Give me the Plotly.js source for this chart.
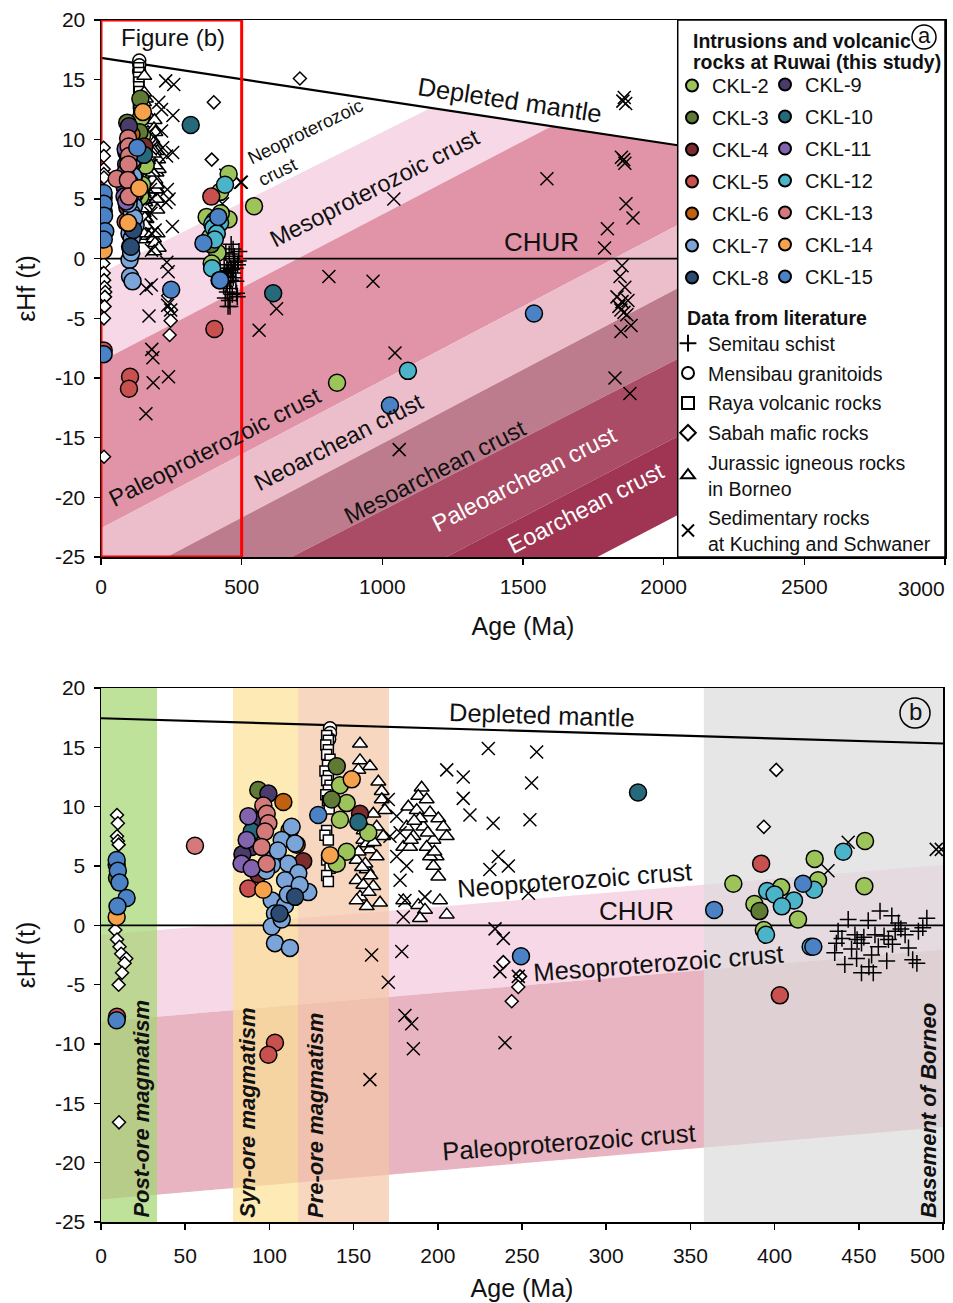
<!DOCTYPE html>
<html><head><meta charset="utf-8">
<script src="https://cdn.plot.ly/plotly-3.0.1.min.js"></script>
<style>html,body{margin:0;padding:0;background:#fff}</style>
</head><body><div id="chart" style="width:953px;height:1303px"></div>
<script>
const FONT = 'Liberation Sans, Arial, Helvetica, sans-serif';

// ---------- tick labels ----------
const yTickVals = [20, 15, 10, 5, 0, -5, -10, -15, -20, -25];
const yTickText = ['20', '15', '10', '5', '0', '-5', '-10', '-15', '-20', '-25'];
const xTickValsA = [0, 500, 1000, 1500, 2000, 2500, 3000];
const xTickTextA = ['0', '500', '1000', '1500', '2000', '2500', '3000'];
const xTickValsB = [0, 50, 100, 150, 200, 250, 300, 350, 400, 450, 500];
const xTickTextB = ['0', '50', '100', '150', '200', '250', '300', '350', '400', '450', '500'];

// ---------- this study: age (Ma) and eHf(t) per sample ----------
const ckl2Age = [141.9, 145.9, 141.9, 158.7, 145.9, 140, 375.5, 423.8, 453.7, 453.3, 425.8, 403.9, 413.9, 393.6, 388, 544, 839];
const ckl2Eps = [11.8, 10.3, 8.9, 7.8, 6.2, 5.2, 3.5, 5.6, 7.1, 3.3, 3.8, 3.2, 0.5, -0.4, 1.8, 4.4, -10.4];
const ckl3Age = [93.4, 140, 137, 9.5, 391];
const ckl3Eps = [11.4, 13.4, 10.6, 4.0, 1.2];
const ckl4Age = [120.1, 93.4, 153.8];
const ckl4Eps = [5.4, 4.3, 9.4];
const ckl5Age = [9.3, 9.5, 87.5, 103.3, 99.4, 392, 403.1];
const ckl5Eps = [5.1, -7.7, 3.1, -9.9, -10.9, 5.2, -5.9];
const ckl6Age = [108.3, 116.2, 112];
const ckl6Eps = [10.4, 6.8, 8.0];
const ckl7Age = [113.2, 107.3, 115.2, 103.3, 111.2, 117.2, 109.3, 123.1, 101.4, 109.3, 103.3, 101.4, 107.3, 103.3, 112.2, 111, 101.5, 118, 105, 98];
const ckl7Eps = [8.3, 7.2, 6.9, 5.8, 5.2, 4.4, 3.8, 2.8, 2.1, 1.7, 1.0, -0.1, 0.5, -1.5, -1.9, 2.6, 5.1, 3.4, 6.3, 4.6];
const ckl8Age = [115.2, 106];
const ckl8Eps = [2.4, 1.0];
const ckl9Age = [99.4, 90.4, 89.5, 84];
const ckl9Eps = [11.1, 8.9, 6.6, 6.0];
const ckl10Age = [89.5, 152.8, 318.9, 612];
const ckl10Eps = [7.9, 8.7, 11.2, -2.9];
const ckl11Age = [87.5, 86.5, 83.5, 89.5];
const ckl11Eps = [9.2, 7.2, 5.2, 4.8];
const ckl12Age = [440.8, 423.4, 395.6, 400, 411.5, 404.3, 394.9, 421.4, 1091];
const ckl12Eps = [6.2, 3.0, 2.9, 2.6, 2.1, 1.6, -0.8, -1.8, -9.4];
const ckl13Age = [55.8, 96.4, 98.4, 99.4, 97.4, 95.4, 98.4];
const ckl13Eps = [6.7, 10.1, 9.4, 8.6, 7.9, 6.6, 5.2];
const ckl14Age = [9.3, 96.4, 148.9, 136];
const ckl14Eps = [0.7, 3.0, 12.3, 5.9];
const ckl15Age = [9.3, 10, 11, 15.2, 9.8, 9.3, 129, 249.4, 364.1, 416.9, 423, 1027, 1539];
const ckl15Eps = [5.5, 4.6, 3.6, 2.3, 1.6, -8.0, 9.3, -2.6, 1.3, 3.5, -1.8, -12.3, -4.6];

const sampleNames = ['CKL-2', 'CKL-3', 'CKL-4', 'CKL-5', 'CKL-6', 'CKL-7', 'CKL-8',
                     'CKL-9', 'CKL-10', 'CKL-11', 'CKL-12', 'CKL-13', 'CKL-14', 'CKL-15'];
const sampleColors = ['#9dc35b', '#5f7a34', '#7b2c2c', '#c8514f', '#c0610f', '#7ba4d8', '#2c4b73',
                      '#4b3b6b', '#25697b', '#8163ae', '#4cb4c9', '#d47a7a', '#f6a24c', '#4b82c5'];
const sampleAges = [ckl2Age, ckl3Age, ckl4Age, ckl5Age, ckl6Age, ckl7Age, ckl8Age,
                    ckl9Age, ckl10Age, ckl11Age, ckl12Age, ckl13Age, ckl14Age, ckl15Age];
const sampleEps = [ckl2Eps, ckl3Eps, ckl4Eps, ckl5Eps, ckl6Eps, ckl7Eps, ckl8Eps,
                   ckl9Eps, ckl10Eps, ckl11Eps, ckl12Eps, ckl13Eps, ckl14Eps, ckl15Eps];

// ---------- literature ----------
const semitauAge = [462.6, 469.6, 490.4, 443.7, 455.6, 473.6, 485.4, 437.7, 447.7, 459.6, 477.5, 467.6, 436.7, 451.6, 479.5, 445.7, 461.6, 457.6, 435.7, 448.7, 466.6, 441.7, 484.5, 451.6, 458.6, 471.6, 482, 475, 465, 453, 440, 488, 470, 456, 449];
const semitauEps = [1.2, 0.8, 0.6, 0.5, 0.4, 0.2, -0.5, -0.5, -0.8, -0.8, -0.8, -1.2, -1.5, -1.5, -1.9, -2.0, -1.8, -2.5, -2.3, -2.8, -3.0, -3.3, -3.2, -4.0, -4.0, -0.5, -2.9, -0.3, -0.9, -1.0, -1.1, -0.2, -1.6, -3.5, -1.2];
const mensibauAge = [136, 136, 135.5];
const mensibauEps = [16.6, 16.2, 15.7];
const rayaAge = [134, 135, 133.5, 135, 134, 136, 134.5, 133, 135, 134, 136, 135, 133.5, 134.5, 135.5, 134, 133, 135, 134, 136, 134, 135];
const rayaEps = [16.0, 15.6, 15.2, 14.8, 14.4, 14.0, 13.5, 13.0, 12.6, 12.2, 11.8, 11.4, 11.0, 10.5, 9.8, 8.0, 7.6, 7.2, 5.5, 4.8, 4.2, 3.7];
const sabahAge = [9.5, 10, 9.5, 10, 10.5, 8.5, 9.5, 11, 12, 15, 14, 12.5, 10.5, 10.7, 238.9, 248.8, 247.8, 243.9, 401, 393.6, 707];
const sabahEps = [9.3, 8.6, 7.5, 7.1, 6.8, -0.4, -1.2, -1.8, -2.4, -2.8, -3.2, -4.0, -5.0, -16.6, -3.1, -4.3, -5.2, -6.4, 13.1, 8.3, 15.1];
const jurassicAge = [153.8, 153.8, 159.7, 152.8, 164.7, 166.7, 166.7, 168.6, 161.7, 163.7, 167.6, 155.8, 159.7, 151.8, 163.7, 157.8, 151.8, 161.7, 153.8, 157.8, 165.7, 151.8, 155.8, 154, 156, 158, 160, 153, 157, 155, 159, 162,
                     190.4, 188.4, 193.4, 182.5, 187.5, 195.4, 200.3, 181.5, 191.4, 203.3, 185.5, 197.4, 205.3, 179.5, 193.4, 199.3, 197.4, 200.3, 179.5, 188.4, 192.4, 201.3, 205.3, 189.4, 183.5, 189.4, 195.4, 186, 194, 198, 184];
const jurassicEps = [15.3, 13.9, 13.4, 13.1, 12.1, 11.3, 10.6, 9.7, 9.4, 8.3, 7.5, 7.2, 6.4, 5.5, 5.8, 4.7, 3.8, 3.3, 2.4, 1.6, 1.9, 2.1, 3.4, 8.8, 8.0, 6.9, 4.2, 6.2, 5.2, 4.9, 2.8, 7.0,
                     11.6, 10.9, 10.6, 10.0, 9.7, 9.5, 9.0, 8.3, 8.3, 8.3, 7.5, 7.2, 7.5, 6.6, 6.6, 5.8, 5.0, 4.1, 2.1, 1.7, 1.3, 2.1, 0.9, 0.6, 6.6, 9.0, 5.8, 8.8, 7.8, 6.2, 7.2];
const sedimentAge = [230, 258.7, 205.3, 215.1, 255.7, 215.1, 219.1, 232.9, 254.7, 170.6, 175.6, 235.9, 230.9, 241.9, 253.8, 177.6, 180.5, 179.5, 192.4, 234, 238.9, 236.9, 247.8, 160.7, 178.6, 170.6, 180.5, 184.5, 185.5, 239.9, 159.7, 496, 499, 431.7, 443.7, 171.6, 177.6, 181.5, 175.6,
                     562, 624, 810, 967, 1041, 1045, 1060, 1585, 1800, 1790, 1860, 1855, 1865, 1850, 1858, 1862, 1866, 1891, 1852, 1845, 1862, 1834, 1852, 1873, 1841, 1859, 1848, 1869, 1884, 1848, 1827, 1880];
const sedimentEps = [14.9, 14.6, 13.1, 12.5, 12.0, 10.7, 9.3, 8.6, 8.9, 10.6, 9.2, 5.8, 4.7, 5.0, 2.7, 3.8, 2.1, 0.7, 2.4, -0.3, -1.1, -3.9, -4.3, -2.5, -2.2, -4.8, -7.6, -8.3, -10.4, -9.9, -13.0, 6.4, 6.4, 4.6, 7.0, 7.5, 7.8, 5.0, 5.8,
                     -6.0, -4.2, -1.5, -1.9, 5.0, -7.9, -16.0, 6.7, 2.5, 0.9, 13.5, 13.2, 13.0, 8.5, 8.3, 8.0, 4.6, 3.4, -0.6, -1.5, -2.4, -3.2, -3.6, -3.5, -4.0, -4.5, -4.3, -4.7, -5.6, -6.1, -10.0, -11.3];

const litNames = ['Semitau schist', 'Mensibau granitoids', 'Raya volcanic rocks', 'Sabah mafic rocks',
                  'Jurassic igneous rocks<br>in Borneo', 'Sedimentary rocks<br>at Kuching and Schwaner'];
const litAges = [semitauAge, mensibauAge, rayaAge, sabahAge, jurassicAge, sedimentAge];
const litEps = [semitauEps, mensibauEps, rayaEps, sabahEps, jurassicEps, sedimentEps];

// ---------- reference lines: [eHf at 0 Ma, slope per Ma] ----------
const dmLineA = [16.82, -0.00357];
const dmLineB = [17.45, -0.00425];
const crustLinesA = [[-1.2, 0.0118], [-8.6, 0.0123], [-22.6, 0.0124], [-27.9, 0.0124], [-33.2, 0.0121], [-40.1, 0.0123], [-46.7, 0.0123]];
const crustColorsA = ['#f7d8e6', '#e193a7', '#ecbdcb', '#bd7c8d', '#aa4c66', '#a03553'];
const crustLinesB = [[-0.8, 0.0118], [-8.1, 0.0121], [-23.1, 0.0122]];
const crustColorsB = ['#f7d8e6', '#e8b4c1'];
const periodNames = ['Post-ore magmatism', 'Syn-ore magmatism', 'Pre-ore magmatism', 'Basement of Borneo'];
const periodStart = [0, 78.4, 117, 358];
const periodEnd = [33.3, 117, 171, 500];
const periodColors = ['rgba(164,214,113,0.7)', 'rgba(252,225,148,0.7)', 'rgba(244,198,165,0.7)', 'rgba(220,220,220,0.7)'];

// ---------- helpers ----------
const PL = 101, PR = 945, PT = 20, PB = 1222;
const px2x = p => (p - PL) / (PR - PL);
const py2y = p => (PB - p) / (PB - PT);
const lineVal = (l, x) => l[0] + l[1] * x;

function bandPath(up, lo, dm, xmax, xr, yr) {
  const top = [], bot = [];
  for (let x = 0; x <= xmax + 1e-9; x += 1) {
    let u = lineVal(up, x);
    if (dm) u = Math.min(u, lineVal(dm, x));
    u = Math.min(u, 20);
    const l = Math.max(lineVal(lo, x), -25);
    if (u > l) { top.push([x, u]); bot.push([x, l]); }
  }
  const pts = top.concat(bot.reverse());
  return {type: 'path', xref: xr, yref: yr, layer: 'below', line: {width: 0},
          path: 'M' + pts.map(p => p[0].toFixed(2) + ',' + p[1].toFixed(3)).join('L') + 'Z'};
}

const shapes = [];
for (let i = 0; i < crustColorsA.length; i++) {
  const s = bandPath(crustLinesA[i], crustLinesA[i + 1], dmLineA, 2050, 'x', 'y');
  s.fillcolor = crustColorsA[i]; shapes.push(s);
}
for (let i = 0; i < crustColorsB.length; i++) {
  const s = bandPath(crustLinesB[i], crustLinesB[i + 1], dmLineB, 500, 'x2', 'y2');
  s.fillcolor = crustColorsB[i]; shapes.push(s);
}
for (let i = 0; i < periodNames.length; i++) {
  shapes.push({type: 'rect', xref: 'x2', yref: 'y2', layer: 'below', x0: periodStart[i], x1: periodEnd[i],
               y0: -25, y1: 20, fillcolor: periodColors[i], line: {width: 0}});
}
// DM and CHUR lines
shapes.push({type: 'line', xref: 'x', yref: 'y', layer: 'below', x0: 0, x1: 2050, y0: lineVal(dmLineA, 0), y1: lineVal(dmLineA, 2050), line: {color: '#000', width: 2.2}});
shapes.push({type: 'line', xref: 'x', yref: 'y', layer: 'below', x0: 0, x1: 2050, y0: 0, y1: 0, line: {color: '#000', width: 1.8}});
shapes.push({type: 'line', xref: 'x2', yref: 'y2', layer: 'below', x0: 0, x1: 500, y0: lineVal(dmLineB, 0), y1: lineVal(dmLineB, 500), line: {color: '#000', width: 2.2}});
shapes.push({type: 'line', xref: 'x2', yref: 'y2', layer: 'below', x0: 0, x1: 500, y0: 0, y1: 0, line: {color: '#000', width: 1.8}});
// red box "Figure (b)"
shapes.push({type: 'rect', xref: 'x', yref: 'y', layer: 'below', x0: 0, x1: 500, y0: -25, y1: 20, line: {color: '#ff0000', width: 3}});
// legend box
shapes.push({type: 'rect', xref: 'x', yref: 'y', layer: 'above', x0: 2050, x1: 3000, y0: -25, y1: 20, line: {color: '#000', width: 1.5}, fillcolor: 'rgba(0,0,0,0)'});
// circled panel letters
[[924, 37, 12], [915, 713, 15]].forEach(c => {
  shapes.push({type: 'circle', xref: 'paper', yref: 'paper', xsizemode: 'pixel', ysizemode: 'pixel',
               xanchor: px2x(c[0]), yanchor: py2y(c[1]), x0: -c[2], x1: c[2], y0: -c[2], y1: c[2],
               line: {color: '#000', width: 1.5}, layer: 'above'});
});

// ---------- traces ----------
const traces = [];
const litSymbols = ['cross-thin-open', 'circle', 'square', 'diamond', 'triangle-up', 'x-thin-open'];
const litSizes = [12, 13, 10, 10, 13, 13];
for (let i = 0; i < litNames.length; i++) {
  const thin = litSymbols[i].indexOf('thin') >= 0;
  const marker = {symbol: litSymbols[i], size: litSizes[i], color: thin ? '#000' : '#fff',
                  line: {color: '#000', width: 1.5}};
  traces.push({type: 'scatter', mode: 'markers', x: litAges[i], y: litEps[i], xaxis: 'x', yaxis: 'y',
               name: litNames[i], legend: 'legend3', legendgroup: 'lit' + i, marker: marker, hoverinfo: 'x+y'});
  traces.push({type: 'scatter', mode: 'markers', x: litAges[i], y: litEps[i], xaxis: 'x2', yaxis: 'y2',
               name: litNames[i], legendgroup: 'lit' + i, showlegend: false, marker: marker, hoverinfo: 'x+y'});
}
for (let i = 0; i < sampleNames.length; i++) {
  const marker = {symbol: 'circle', size: 17, color: sampleColors[i], line: {color: '#000', width: 1.5}};
  const leg = i < 7 ? 'legend' : 'legend2';
  traces.push({type: 'scatter', mode: 'markers', x: sampleAges[i], y: sampleEps[i], xaxis: 'x', yaxis: 'y',
               name: sampleNames[i], legend: leg, legendgroup: 's' + i, marker: marker, hoverinfo: 'x+y'});
  traces.push({type: 'scatter', mode: 'markers', x: sampleAges[i], y: sampleEps[i], xaxis: 'x2', yaxis: 'y2',
               name: sampleNames[i], legendgroup: 's' + i, showlegend: false, marker: marker, hoverinfo: 'x+y'});
}

// ---------- annotations ----------
const ann = [];
function txt(xr, yr, x, y, t, size, angle, color, extra) {
  ann.push(Object.assign({xref: xr, yref: yr, x: x, y: y, text: t, showarrow: false, textangle: angle || 0,
    font: {family: FONT, size: size, color: color || '#111'}, xanchor: 'center', yanchor: 'middle'}, extra || {}));
}
txt('x', 'y', 1454, 13.3, 'Depleted mantle', 25.5, 8.6);
txt('x', 'y', 743, 9.7, 'Neoproterozoic<br>crust', 18.5, -26, '#111', {align: 'left'});
txt('x', 'y', 974, 5.9, 'Mesoproterozoic crust', 23.5, -27);
txt('x', 'y', 1567, 1.4, 'CHUR', 26);
txt('x', 'y', 405, -15.8, 'Paleoproterozoic crust', 23.5, -27);
txt('x', 'y', 846, -15.4, 'Neoarchean crust', 23.5, -27);
txt('x', 'y', 1187, -17.9, 'Mesoarchean crust', 23.5, -27);
txt('x', 'y', 1507, -18.5, 'Paleoarchean crust', 23.5, -27, '#fff');
txt('x', 'y', 1724, -20.9, 'Eoarchean crust', 23.5, -27, '#fff');
txt('x', 'y', 256, 18.5, 'Figure (b)', 24);
txt('x2', 'y2', 262, 17.7, 'Depleted mantle', 25.5, 1.8);
txt('x2', 'y2', 281, 3.8, 'Neoproterozoic crust', 25.5, -4.3);
txt('x2', 'y2', 318, 1.2, 'CHUR', 26);
txt('x2', 'y2', 331, -3.2, 'Mesoproterozoic crust', 25.5, -4.3);
txt('x2', 'y2', 278, -18.3, 'Paleoproterozoic crust', 25.5, -4.3);
const periodLabelX = [24.3, 87.3, 127, 491];
for (let i = 0; i < periodNames.length; i++) {
  txt('x2', 'y2', periodLabelX[i], -24.8, '<b><i>' + periodNames[i] + '</i></b>', 22, -90, '#111', {yanchor: 'bottom'});
}
txt('paper', 'paper', px2x(924), py2y(36), 'a', 22);
txt('paper', 'paper', px2x(915), py2y(712), 'b', 24);
// legend headings
txt('paper', 'paper', px2x(691), py2y(41), '<b>Intrusions and volcanic</b>', 19.5, 0, '#111', {xanchor: 'left'});
txt('paper', 'paper', px2x(691), py2y(62), '<b>rocks at Ruwai (this study)</b>', 19.5, 0, '#111', {xanchor: 'left'});
txt('paper', 'paper', px2x(685), py2y(318), '<b>Data from literature</b>', 19.5, 0, '#111', {xanchor: 'left'});
// last x tick labels sit shifted inside the page edge, as in the reference
txt('paper', 'paper', px2x(947), py2y(588), xTickTextA[xTickTextA.length - 1], 21, 0, '#111', {xanchor: 'right'});
txt('paper', 'paper', px2x(947), py2y(1255), xTickTextB[xTickTextB.length - 1], 21, 0, '#111', {xanchor: 'right'});
const xTickShownA = xTickTextA.map((t, i) => i === xTickTextA.length - 1 ? '' : t);
const xTickShownB = xTickTextB.map((t, i) => i === xTickTextB.length - 1 ? '' : t);

// ---------- layout ----------
const axisCommon = {showline: true, linecolor: '#000', linewidth: 1.5, mirror: true, ticks: 'outside', ticklen: 6,
                    tickwidth: 1.5, tickcolor: '#000', showgrid: false, zeroline: false,
                    tickfont: {family: FONT, size: 21, color: '#111'}, fixedrange: true};
const xTitleA = {text: 'Age (Ma)', font: {size: 25, family: FONT, color: '#111'}, standoff: 21};
const xTitleB = {text: 'Age (Ma)', font: {size: 25, family: FONT, color: '#111'}, standoff: 14};
const yTitle = {text: 'εHf (t)', font: {size: 25, family: FONT, color: '#111'}, standoff: 12};
const legendCommon = {xanchor: 'left', yanchor: 'top', bgcolor: 'rgba(0,0,0,0)', borderwidth: 0,
                      itemsizing: 'constant'};
const layout = {
  width: 953, height: 1303,
  margin: {l: PL, r: 953 - PR, t: PT, b: 1303 - PB},
  paper_bgcolor: '#fff', plot_bgcolor: '#fff',
  font: {family: FONT, color: '#111'},
  xaxis: Object.assign({}, axisCommon, {domain: [0, 1], range: [0, 3000], anchor: 'y', tickmode: 'array',
        tickvals: xTickValsA, ticktext: xTickShownA, ticklabelstandoff: 4, title: xTitleA}),
  yaxis: Object.assign({}, axisCommon, {domain: [py2y(557), 1], range: [-25, 20], anchor: 'x', tickmode: 'array',
        tickvals: yTickVals, ticktext: yTickText, ticklabelstandoff: 4, title: yTitle}),
  xaxis2: Object.assign({}, axisCommon, {domain: [0, px2x(943)], range: [0, 500], anchor: 'y2', tickmode: 'array',
        tickvals: xTickValsB, ticktext: xTickShownB, ticklabelstandoff: 8, title: xTitleB}),
  yaxis2: Object.assign({}, axisCommon, {domain: [0, py2y(688)], range: [-25, 20], anchor: 'x2', tickmode: 'array',
        tickvals: yTickVals, ticktext: yTickText, ticklabelstandoff: 4, title: yTitle}),
  showlegend: true,
  legend: Object.assign({}, legendCommon, {x: px2x(672), y: py2y(66), tracegroupgap: 3,
          font: {family: FONT, size: 20, color: '#111'}}),
  legend2: Object.assign({}, legendCommon, {x: px2x(765), y: py2y(65), tracegroupgap: 3,
          font: {family: FONT, size: 20, color: '#111'}}),
  legend3: Object.assign({}, legendCommon, {x: px2x(668), y: py2y(324), tracegroupgap: 1.5,
          font: {family: FONT, size: 19.5, color: '#111'}}),
  shapes: shapes,
  annotations: ann
};
Plotly.newPlot('chart', traces, layout, {displayModeBar: false, staticPlot: true});
</script></body></html>
